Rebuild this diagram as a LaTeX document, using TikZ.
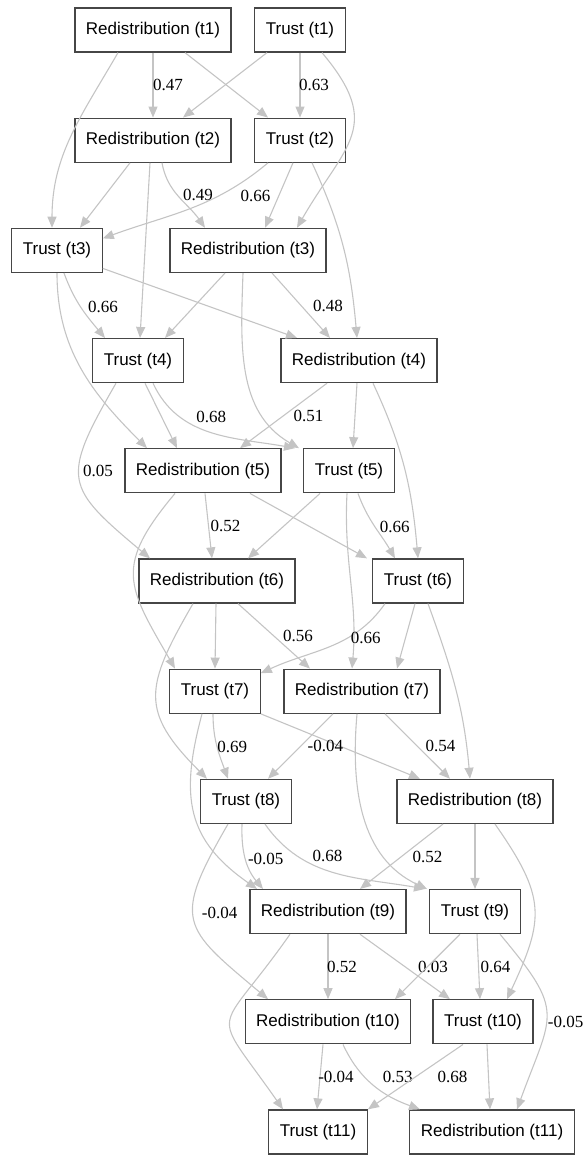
\documentclass[tikz,border=0pt]{standalone}
\usepackage{fontspec}
\setmainfont{Liberation Serif}
\newfontfamily\boxfont{Liberation Sans}
\usepackage{tikz}
\usetikzlibrary{arrows.meta,positioning}
\definecolor{edgegray}{RGB}{196,196,196}
\definecolor{boxgray}{RGB}{70,70,70}

\begin{document}
\begin{tikzpicture}[x=1pt,y=1pt,
    box/.style={draw=boxgray,line width=1.3pt,fill=white,inner xsep=11pt,inner ysep=0pt,
                minimum height=44pt,font=\boxfont\fontsize{17}{20}\selectfont},
    lbl/.style={inner sep=0pt,text=black,font=\rmfamily\fontsize{17}{20}\selectfont},
    every edge/.append style={edgegray,line width=1.1pt},
    >={Triangle[length=11pt,width=9pt]}]
   \useasboundingbox (0,0) rectangle (585,-1155);
   \node[box] (R1) at (153,-30) {Redistribution (t1)};
    \node[box] (T1) at (300,-30) {Trust (t1)};
    \node[box] (R2) at (153,-140.2) {Redistribution (t2)};
    \node[box] (T2) at (300,-140.2) {Trust (t2)};
    \node[box] (T3) at (57,-250.4) {Trust (t3)};
    \node[box] (R3) at (248,-250.4) {Redistribution (t3)};
    \node[box] (T4) at (138,-360.6) {Trust (t4)};
    \node[box] (R4) at (359,-360.6) {Redistribution (t4)};
    \node[box] (R5) at (203,-470.8) {Redistribution (t5)};
    \node[box] (T5) at (349,-470.8) {Trust (t5)};
    \node[box] (R6) at (217,-581) {Redistribution (t6)};
    \node[box] (T6) at (418,-581) {Trust (t6)};
    \node[box] (T7) at (215,-691.2) {Trust (t7)};
    \node[box] (R7) at (362,-691.2) {Redistribution (t7)};
    \node[box] (T8) at (246,-801.4) {Trust (t8)};
    \node[box] (R8) at (475,-801.4) {Redistribution (t8)};
    \node[box] (R9) at (328,-911.6) {Redistribution (t9)};
    \node[box] (T9) at (475,-911.6) {Trust (t9)};
    \node[box] (R10) at (328,-1021.8) {Redistribution (t10)};
    \node[box] (T10) at (483,-1021.8) {Trust (t10)};
    \node[box] (T11) at (318,-1132) {Trust (t11)};
    \node[box] (R11) at (492,-1132) {Redistribution (t11)};
    % t1 -> t2
    \path [->](R1.south) edge node[lbl,xshift=15pt] {0.47} (R2.north);
    \path [->]([xshift=32pt]R1.south) edge ([xshift=-32pt]T2.north);
    \path [->]([xshift=-35pt]R1.south) edge[out=-120,in=90] ([xshift=-5pt]T3.north);
    \path [->]([xshift=-33pt]T1.south) edge ([xshift=30pt]R2.north);
    \path [->](T1.south) edge node[lbl,xshift=14pt] {0.63} (T2.north);
    \path [->]([xshift=22pt]T1.south) edge[out=-50,in=60,looseness=1.4] ([xshift=49pt]R3.north);
    % t2 -> t3
    \path [->]([xshift=-23pt]R2.south) edge ([xshift=23pt]T3.north);
    \path [->]([xshift=-3pt]R2.south) edge ([xshift=2pt]T4.north);
    \path [->]([xshift=9pt]R2.south) edge[out=-80,in=125] node[lbl,xshift=19pt,yshift=2pt] {0.49} ([xshift=-43pt]R3.north);
    \path [->]([xshift=-32pt]T2.south) edge[out=-140,in=20] node[lbl,pos=.25,xshift=27pt,yshift=-5pt] {0.66} ([yshift=12pt]T3.east);
    \path [->]([xshift=-7pt]T2.south) edge ([xshift=17pt]R3.north);
    \path [->]([xshift=12pt]T2.south) edge[out=-65,in=95] ([xshift=-2pt]R4.north);
    % t3 -> t4
    \path [->]([xshift=7pt]T3.south) edge[out=-70,in=130] node[lbl,xshift=22pt] {0.66} ([xshift=-33pt]T4.north);
    \path [->]([yshift=-18pt]T3.east) edge ([xshift=-62pt]R4.north);
    \path [->](T3.south) edge[out=-90,in=135] ([xshift=-56pt]R5.north);
    \path [->]([xshift=-23pt]R3.south) edge ([xshift=27pt]T4.north);
    \path [->]([xshift=-5pt]R3.south) edge[out=-92,in=150] ([xshift=-50pt]T5.north);
    \path [->]([xshift=24pt]R3.south) edge node[lbl,xshift=27pt] {0.48} ([xshift=-29pt]R4.north);
    % t4 -> t5
    \path [->]([xshift=7pt]T4.south) edge ([xshift=-26pt]R5.north);
    \path [->]([xshift=15pt]T4.south) edge[out=-65,in=170] node[lbl,yshift=16pt] {0.68} ([xshift=-54pt]T5.north);
    \path [->]([xshift=-22pt]T4.south) edge[out=-120,in=140,looseness=1.6] node[lbl,xshift=18pt,yshift=9pt] {0.05} ([xshift=-67pt]R6.north);
    \path [->]([xshift=-32pt]R4.south) edge node[lbl,xshift=25pt] {0.51} ([xshift=37pt]R5.north);
    \path [->]([xshift=-2pt]R4.south) edge ([xshift=4pt]T5.north);
    \path [->]([xshift=14pt]R4.south) edge[out=-65,in=95] (T6.north);
    % t5 -> t6
    \path [->]([xshift=2pt]R5.south) edge node[lbl,xshift=17pt] {0.52} ([xshift=-5pt]R6.north);
    \path [->]([xshift=47pt]R5.south) edge ([xshift=-51pt]T6.north);
    \path [->]([xshift=-28pt]R5.south) edge[out=-130,in=120,looseness=1.4] ([xshift=-40pt]T7.north);
    \path [->]([xshift=-29pt]T5.south) edge ([xshift=31pt]R6.north);
    \path [->]([xshift=9pt]T5.south) edge[out=-70,in=120] node[lbl,xshift=20pt] {0.66} ([xshift=-23pt]T6.north);
    \path [->]([xshift=-2pt]T5.south) edge[out=-93,in=85] ([xshift=-10pt]R7.north);
    % t6 -> t7
    \path [->]([xshift=-1pt]R6.south) edge (T7.north);
    \path [->]([xshift=21pt]R6.south) edge node[lbl,xshift=24pt] {0.56} ([xshift=-52pt]R7.north);
    \path [->]([xshift=-24pt]R6.south) edge[out=-120,in=135,looseness=1.4] ([xshift=-39pt]T8.north);
    \path [->]([xshift=-33pt]T6.south) edge[out=-125,in=25] node[lbl,xshift=36pt,yshift=9pt] {0.66} ([yshift=18pt]T7.east);
    \path [->]([xshift=-3pt]T6.south) edge ([xshift=35pt]R7.north);
    \path [->]([xshift=10pt]T6.south) edge[out=-70,in=95] ([xshift=-5pt]R8.north);
    % t7 -> t8
    \path [->]([xshift=-2pt]T7.south) edge[out=-90,in=110] node[lbl,xshift=15pt] {0.69} ([xshift=-18pt]T8.north);
    \path [->](T7.south east) edge node[lbl,xshift=-15pt] {-0.04} ([xshift=-55pt]R8.north);
    \path [->]([xshift=-13pt]T7.south) edge[out=-105,in=145,looseness=1.2] ([xshift=-71pt]R9.north);
    \path [->]([xshift=-29pt]R7.south) edge ([xshift=22pt]T8.north);
    \path [->]([xshift=23pt]R7.south) edge node[lbl,xshift=23pt] {0.54} ([xshift=-25pt]R8.north);
    \path [->]([xshift=-5pt]R7.south) edge[out=-95,in=155] ([xshift=-48pt]T9.north);
    % t8 -> t9
    \path [->]([xshift=-4pt]T8.south) edge[out=-92,in=130] node[lbl,xshift=20pt] {-0.05} ([xshift=-65pt]R9.north);
    \path [->]([xshift=19pt]T8.south) edge[out=-55,in=170] node[lbl,xshift=-7pt,yshift=17pt] {0.68} ([xshift=-50pt]T9.north);
    \path [->]([xshift=-18pt]T8.south) edge[out=-120,in=140,looseness=1.6] node[lbl,xshift=25pt,yshift=8pt] {-0.04} ([xshift=-60pt]R10.north);
    \path [->]([xshift=-32pt]R8.south) edge node[lbl,xshift=26pt] {0.52} ([xshift=32pt]R9.north);
    \path [->](R8.south) edge (T9.north);
    \path [->]([xshift=20pt]R8.south) edge[out=-55,in=65,looseness=1.3] ([xshift=24pt]T10.north);
    % t9 -> t10
    \path [->](R9.south) edge node[lbl,xshift=14pt] {0.52} (R10.north);
    \path [->]([xshift=32pt]R9.south) edge node[lbl,xshift=28pt] {0.03} ([xshift=-33pt]T10.north);
    \path [->]([xshift=-38pt]R9.south) edge[out=-125,in=125,looseness=1.9] ([xshift=-35pt]T11.north);
    \path [->]([xshift=-15pt]T9.south) edge ([xshift=67pt]R10.north);
    \path [->]([xshift=2pt]T9.south) edge node[lbl,xshift=17pt] {0.64} ([xshift=-3pt]T10.north);
    \path [->]([xshift=25pt]T9.south) edge[out=-50,in=70,looseness=1.5] node[lbl,xshift=19pt,yshift=-7pt] {-0.05} ([xshift=25pt]R11.north);
    % t10 -> t11
    \path [->]([xshift=-5pt]R10.south) edge node[lbl,xshift=16pt] {-0.04} ([xshift=-1pt]T11.north);
    \path [->]([xshift=15pt]R10.south) edge[out=-65,in=160] node[lbl,xshift=24pt,yshift=8pt] {0.53} ([xshift=-72pt]R11.north);
    \path [->]([xshift=-20pt]T10.south) edge node[lbl,xshift=37pt] {0.68} (T11.north east);
    \path [->]([xshift=4pt]T10.south) edge ([xshift=-2pt]R11.north);
\end{tikzpicture}
\end{document}
